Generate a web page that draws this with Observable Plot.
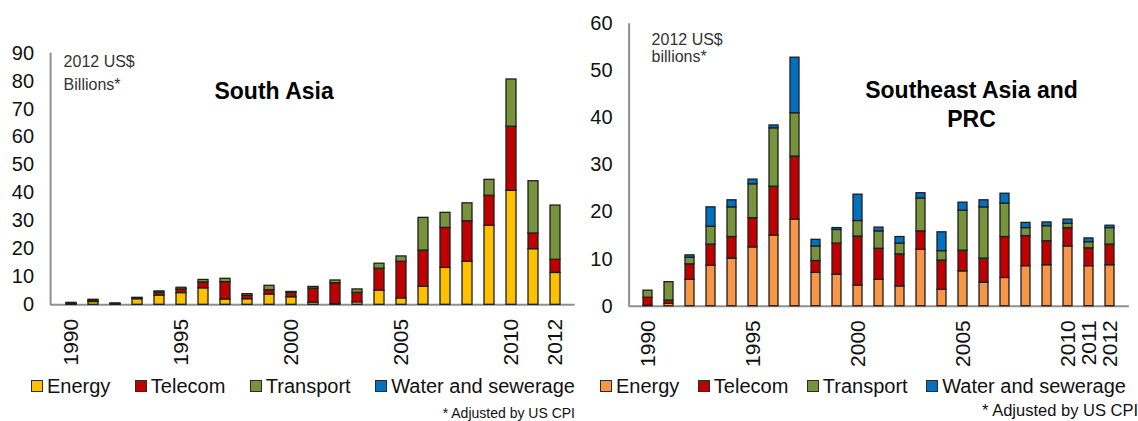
<!DOCTYPE html>
<html>
<head>
<meta charset="utf-8">
<script src="https://cdn.jsdelivr.net/npm/d3@7"></script>
<script src="https://cdn.jsdelivr.net/npm/@observablehq/plot@0.6"></script>
<style>
  html, body { margin: 0; padding: 0; background: #fff; }
  body { width: 1138px; height: 421px; overflow: hidden; position: relative; font-family: "Liberation Sans", Arial, sans-serif; color: #111; }
  .panel { position: absolute; top: 0; }
  .legend { position: absolute; top: 376px; height: 20px; display: flex; justify-content: space-between; align-items: center; font-size: 20px; line-height: 20px; color: #111; white-space: nowrap; }
  .legend .item { display: flex; align-items: center; }
  .legend .sw { width: 12px; height: 12px; box-sizing: border-box; border: 1.5px solid #2a2a2a; margin-right: 4px; }
  .note { position: absolute; white-space: nowrap; color: #111; text-align: right; }
</style>
</head>
<body>
<div id="left" class="panel" style="left:0px"></div>
<div id="right" class="panel" style="left:580px"></div>
<div id="legLeft" class="legend" style="left:31px; width:544px"></div>
<div id="legRight" class="legend" style="left:600px; width:526px"></div>
<div class="note" style="right:563px; top:405px; font-size:14px; line-height:16px">* Adjusted by US CPI</div>
<div class="note" style="right:0px; top:401px; font-size:16.5px; line-height:19px">* Adjusted by US CPI</div>
<script>
const years = [1990,1991,1992,1993,1994,1995,1996,1997,1998,1999,2000,2001,2002,2003,2004,2005,2006,2007,2008,2009,2010,2011,2012];
const sectors = ["Energy","Telecom","Transport","Water and sewerage"];

// South Asia (2012 US$ billions)
const saEnergy    = [0.2,1.0,0.2,2.0,3.3,4.2,5.9,1.9,2.0,3.7,2.7,0.8,0.3,0.9,5.1,2.3,6.5,13.2,15.4,28.3,40.8,19.9,11.4];
const saTelecom   = [0.2,0.4,0.1,0.3,1.0,1.3,2.1,6.2,1.2,1.5,1.7,5.0,7.4,3.4,7.8,13.1,12.9,14.3,14.5,10.7,22.9,5.6,4.7];
const saTransport = [0.3,0.4,0.2,0.2,0.5,0.6,0.9,1.2,0.6,1.6,0.2,0.6,1.0,1.2,1.8,1.9,11.7,5.4,6.4,5.7,16.9,18.7,19.4];
const saWater     = [0,0,0,0,0,0,0,0,0,0,0,0,0,0,0,0,0,0,0,0,0,0,0];

// Southeast Asia and PRC (2012 US$ billions)
const seEnergy    = [0.1,0.5,5.6,8.6,10.1,12.5,15.0,18.4,7.1,6.7,4.4,5.6,4.2,12.0,3.5,7.4,5.0,6.0,8.5,8.7,12.7,8.5,8.7];
const seTelecom   = [1.7,0.7,3.3,4.5,4.6,6.2,10.4,13.4,2.5,6.6,10.4,6.6,6.8,3.9,6.2,4.4,5.1,8.7,6.4,5.1,3.9,3.8,4.4];
const seTransport = [1.5,3.9,1.4,3.8,6.3,7.2,12.4,9.2,3.1,2.9,3.3,3.7,2.3,7.0,2.0,8.5,10.9,7.1,1.7,3.2,0.9,1.3,3.5];
const seWater     = [0,0,0.5,4.1,1.5,1.0,0.6,11.8,1.4,0.4,5.6,0.8,1.4,1.1,4.0,1.7,1.5,2.1,1.1,0.8,0.9,0.8,0.5];

const saColors = ["#FFC000","#C00000","#77933C","#0070C0"];
const seColors = ["#F79646","#C00000","#77933C","#0070C0"];

const saYTicks = [0,10,20,30,40,50,60,70,80,90];
const seYTicks = [0,10,20,30,40,50,60];
const saXTicks = [1990,1995,2000,2005,2010,2012];
const seXTicks = [1990,1995,2000,2005,2010,2011,2012];

function tidy(series) {
  const rows = [];
  years.forEach((yr, i) => {
    sectors.forEach((s, j) => {
      const v = series[j][i];
      if (v > 0) rows.push({year: yr, sector: s, value: v});
    });
  });
  return rows;
}

function chart(o) {
  const p = Plot.plot({
    width: o.width,
    height: 370,
    marginTop: o.marginTop,
    marginBottom: o.marginBottom,
    marginLeft: o.marginLeft,
    marginRight: o.marginRight,
    style: {fontFamily: "'Liberation Sans', Arial, sans-serif", background: "transparent", overflow: "visible", color: "#111"},
    x: {type: "band", domain: years, paddingInner: 0.56, paddingOuter: 0.28, axis: null},
    y: {domain: [0, o.yMax], axis: null},
    color: {domain: sectors, range: o.colors},
    marks: [
      Plot.ruleY([0], {stroke: "#8f8f8f", strokeWidth: 2}),
      Plot.barY(o.rows, {x: "year", y: "value", fill: "sector", order: sectors, stroke: "#1e1e1e", strokeWidth: 1.3}),
      Plot.axisY({ticks: o.yTicks, label: null, tickSize: 0, tickPadding: 17, fontSize: 20, tickFormat: d => String(d), fill: "#111"}),
      Plot.axisX({ticks: o.xTicks, label: null, tickRotate: -90, tickSize: 0, tickPadding: 14, fontSize: 21, tickFormat: d => String(d), fill: "#111"}),
      Plot.text([o.unit], {text: d => d, frameAnchor: "top-left", dx: o.unitDx, dy: o.unitDy, lineAnchor: "top", textAnchor: "start", fontSize: 16, lineHeight: o.unitLH, fill: "#333"}),
      Plot.text([o.title], {text: d => d, frameAnchor: "top", dx: o.titleDx, dy: o.titleDy, lineAnchor: "top", textAnchor: "middle", fontSize: 23, fontWeight: "bold", lineHeight: 1.26, fill: "#000"})
    ]
  });
  // vertical y-axis line placed with the plot's own scales
  const xs = p.scale("x");
  const ys = p.scale("y");
  const x0 = Math.min(...xs.range);
  const yTop = Math.min(...ys.range), yBot = Math.max(...ys.range);
  d3.select(p).append("line")
    .attr("x1", x0).attr("x2", x0)
    .attr("y1", yTop).attr("y2", yBot + 1)
    .attr("stroke", "#8f8f8f").attr("stroke-width", 2);
  return p;
}

document.getElementById("left").append(chart({
  width: 580, marginTop: 52.7, marginBottom: 65.7, marginLeft: 50.6, marginRight: 5.4,
  yMax: 90, yTicks: saYTicks, xTicks: saXTicks, colors: saColors,
  rows: tidy([saEnergy, saTelecom, saTransport, saWater]),
  unit: "2012 US$\nBillions*", unitDx: 12.5, unitDy: -2.5, unitLH: 1.45,
  title: "South Asia", titleDx: -39, titleDy: 25.6
}));

document.getElementById("right").append(chart({
  width: 558, marginTop: 23.3, marginBottom: 64.3, marginLeft: 49.1, marginRight: 9.1,
  yMax: 60, yTicks: seYTicks, xTicks: seXTicks, colors: seColors,
  rows: tidy([seEnergy, seTelecom, seTransport, seWater]),
  unit: "2012 US$\nbillions*", unitDx: 22, unitDy: 9.5, unitLH: 1.05,
  title: "Southeast Asia and\nPRC", titleDx: 92, titleDy: 54
}));

function legend(id, colors) {
  const el = document.getElementById(id);
  sectors.forEach((s, i) => {
    const item = document.createElement("div");
    item.className = "item";
    const sw = document.createElement("span");
    sw.className = "sw";
    sw.style.background = colors[i];
    const t = document.createElement("span");
    t.textContent = s;
    item.append(sw, t);
    el.append(item);
  });
}
legend("legLeft", saColors);
legend("legRight", seColors);
</script>
</body>
</html>
